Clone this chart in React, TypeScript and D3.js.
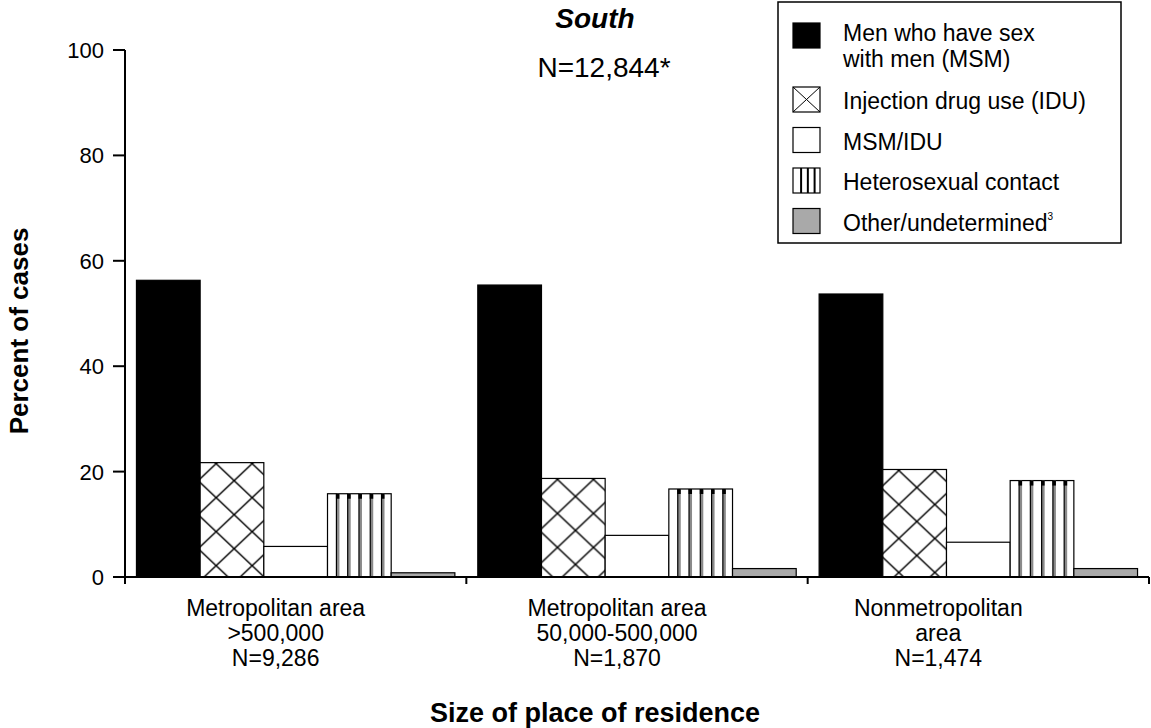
import React from "react";
import * as d3 from "d3";

const categories = ["Metropolitan area >500,000", "Metropolitan area 50,000-500,000", "Nonmetropolitan area"];
const categoryLines = [
  ["Metropolitan area", ">500,000", "N=9,286"],
  ["Metropolitan area", "50,000-500,000", "N=1,870"],
  ["Nonmetropolitan", "area", "N=1,474"],
];
const seriesNames = [
  "Men who have sex with men (MSM)",
  "Injection drug use (IDU)",
  "MSM/IDU",
  "Heterosexual contact",
  "Other/undetermined",
];
const legendLines = [
  ["Men who have sex", "with men (MSM)"],
  ["Injection drug use (IDU)"],
  ["MSM/IDU"],
  ["Heterosexual contact"],
  ["Other/undetermined"],
];
const msm = [56.3, 55.4, 53.7];
const idu = [21.7, 18.7, 20.4];
const msmIdu = [5.8, 7.9, 6.6];
const hetero = [15.8, 16.7, 18.3];
const other = [0.8, 1.6, 1.6];
const yTicks = [0, 20, 40, 60, 80, 100];
const title = "South";
const subtitle = "N=12,844*";
const yTitle = "Percent of cases";
const xTitle = "Size of place of residence";

const seriesValues = [msm, idu, msmIdu, hetero, other];

// layout: horizontal shift of each category label from its group centre
const labelShift = [-20, -20, -40];

const FONT = "'Liberation Sans', Arial, Helvetica, sans-serif";

export default function App() {
  const W = 1151;
  const H = 728;
  const left = 125;
  const right = 1149;
  const top = 50;
  const bottom = 577;

  const y = d3.scaleLinear().domain([0, 100]).range([bottom, top]);
  const x0 = d3.scaleBand<string>().domain(categories).range([left, right]).paddingInner(0).paddingOuter(0);
  const x1 = d3
    .scaleBand<string>()
    .domain(seriesNames)
    .range([0, x0.bandwidth()])
    .paddingInner(0)
    .paddingOuter(0.18);
  const bw = x1.bandwidth();
  const gray = "#a9a9a9";

  const groupEdges = [left, ...categories.map((c) => (x0(c) as number) + x0.bandwidth())];

  const legendTop = (i: number) => 23 + (i > 0 ? 64 + (i - 1) * 40.5 : 0);

  return (
    <svg width={W} height={H} style={{ position: "absolute", left: 0, top: 0, background: "#fff" }} fontFamily={FONT}>
      <defs>
        {categories.map((c, ci) => {
          const bx = (x0(c) as number) + (x1(seriesNames[1]) as number);
          const by = y(idu[ci]);
          return (
            <pattern
              key={c}
              id={`cross${ci}`}
              patternUnits="userSpaceOnUse"
              x={bx - 2}
              y={by + 1 - 17}
              width={36}
              height={34}
            >
              <rect width={36} height={34} fill="#fff" />
              <path d="M0,0 L36,34 M36,0 L0,34" stroke="#000" strokeWidth={1.4} fill="none" />
            </pattern>
          );
        })}
      </defs>

      {/* Title */}
      <text x={595} y={28} textAnchor="middle" fontSize={28} fontWeight="bold" fontStyle="italic">
        {title}
      </text>
      <text x={604} y={77} textAnchor="middle" fontSize={28}>
        {subtitle}
      </text>

      {/* Bars */}
      {categories.map((c, ci) => {
        const gx = x0(c) as number;
        return (
          <g key={c}>
            {seriesNames.map((s, si) => {
              const v = seriesValues[si][ci];
              const bx = gx + (x1(s) as number);
              const by = y(v);
              const bh = bottom - by;
              let fill = "#fff";
              if (si === 0) fill = "#000";
              if (si === 1) fill = `url(#cross${ci})`;
              if (si === 4) fill = gray;
              return (
                <g key={s}>
                  <rect x={bx} y={by} width={bw} height={bh} fill={fill} stroke="#000" strokeWidth={1.2} />
                  {si === 3 &&
                    d3.range(5).map((k) => {
                      const sx = bx + bw * (0.14 + k * 0.177);
                      return (
                        <g key={k}>
                          <rect x={sx} y={by} width={3} height={bh} fill="#8a8a8a" />
                          <line x1={sx} x2={sx} y1={by} y2={bottom} stroke="#000" strokeWidth={1.2} />
                          <rect x={sx - 0.5} y={by} width={3.5} height={5} fill="#000" />
                        </g>
                      );
                    })}
                </g>
              );
            })}
          </g>
        );
      })}

      {/* Y axis */}
      <line x1={left} x2={left} y1={top} y2={bottom} stroke="#000" strokeWidth={2} />
      {yTicks.map((t) => (
        <g key={t}>
          <line x1={left - 12} x2={left} y1={y(t)} y2={y(t)} stroke="#000" strokeWidth={2} />
          <text x={104} y={y(t) + 8} textAnchor="end" fontSize={22}>
            {t}
          </text>
        </g>
      ))}

      {/* X axis */}
      <line x1={left} x2={right} y1={bottom} y2={bottom} stroke="#000" strokeWidth={2} />
      {groupEdges.map((gx, i) => (
        <line key={i} x1={gx} x2={gx} y1={bottom} y2={bottom + 7} stroke="#000" strokeWidth={2} />
      ))}
      {categories.map((c, ci) => {
        const cx = (x0(c) as number) + x0.bandwidth() / 2 + labelShift[ci];
        return (
          <text key={c} textAnchor="middle" fontSize={23}>
            {categoryLines[ci].map((ln, li) => (
              <tspan key={li} x={cx} y={616 + li * 25}>
                {ln}
              </tspan>
            ))}
          </text>
        );
      })}

      {/* Axis titles */}
      <text
        transform={`translate(28, 331) rotate(-90)`}
        textAnchor="middle"
        fontSize={26}
        fontWeight="bold"
      >
        {yTitle}
      </text>
      <text x={595} y={722} textAnchor="middle" fontSize={27} fontWeight="bold">
        {xTitle}
      </text>

      {/* Legend */}
      <rect x={778} y={2} width={343} height={241} fill="#fff" stroke="#000" strokeWidth={1.5} />
      {seriesNames.map((s, i) => {
        const ty = legendTop(i);
        const sx = 793;
        const sw = 27;
        const sh = 25;
        let fill = "#fff";
        if (i === 0) fill = "#000";
        if (i === 4) fill = gray;
        return (
          <g key={s}>
            <rect x={sx} y={ty} width={sw} height={sh} fill={fill} stroke="#000" strokeWidth={1.2} />
            {i === 1 && (
              <path
                d={`M${sx},${ty} L${sx + sw},${ty + sh} M${sx + sw},${ty} L${sx},${ty + sh}`}
                stroke="#000"
                strokeWidth={1}
              />
            )}
            {i === 3 &&
              [0.3, 0.55, 0.8].map((f) => (
                <line
                  key={f}
                  x1={sx + sw * f}
                  x2={sx + sw * f}
                  y1={ty}
                  y2={ty + sh}
                  stroke="#000"
                  strokeWidth={2}
                />
              ))}
            {legendLines[i].map((ln, li) => (
              <text key={li} x={843} y={ty + (i === 0 ? 18 : 22) + li * 26} fontSize={23}>
                {ln}
                {i === 4 && li === 0 ? (
                  <tspan fontSize={10} dy={-11}>
                    3
                  </tspan>
                ) : null}
              </text>
            ))}
          </g>
        );
      })}
    </svg>
  );
}
